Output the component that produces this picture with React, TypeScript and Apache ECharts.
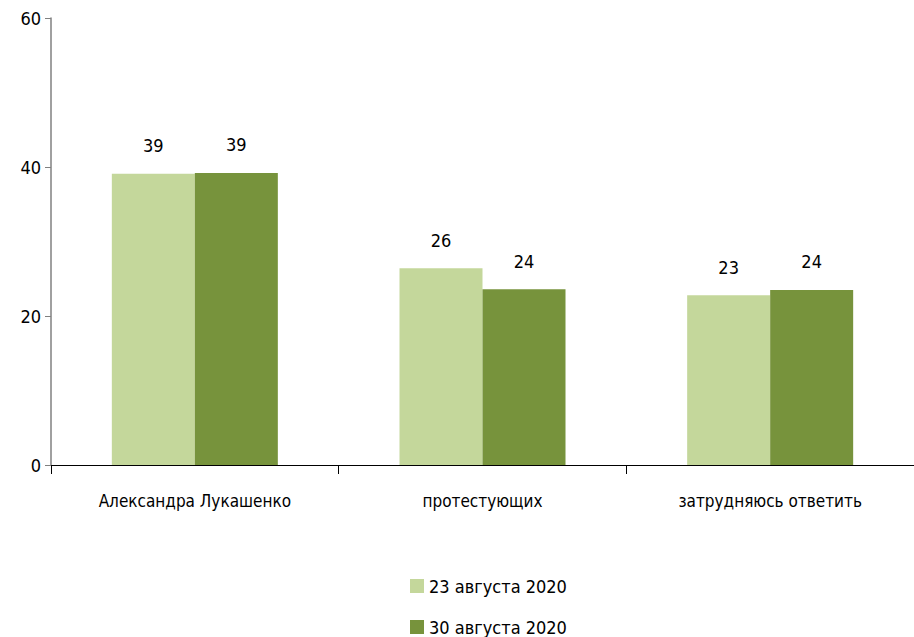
import React, { useEffect, useRef } from "react";
import * as echarts from "echarts";

const categories = ["Александра Лукашенко", "протестующих", "затрудняюсь ответить"];
const seriesNames = ["23 августа 2020", "30 августа 2020"];
const aug23 = [39.1, 26.4, 22.8];
const aug30 = [39.2, 23.6, 23.5];
const colors = ["#c4d79b", "#77933c"];

const FONT = "'Liberation Sans Narrow', 'DejaVu Sans Condensed', 'Roboto Condensed', sans-serif";

export default function App() {
  const ref = useRef<HTMLDivElement>(null);
  useEffect(() => {
    if (!ref.current) return;
    const chart = echarts.init(ref.current, null, { renderer: "svg" });
    const label = {
      show: true,
      position: "top",
      distance: 19,
      color: "#000",
      fontFamily: FONT,
      fontSize: 18,
      formatter: (p: any) => String(Math.round(p.value)),
    };
    chart.setOption({
      animation: false,
      textStyle: { fontFamily: FONT },
      grid: { left: 51, right: 0, top: 18, bottom: 172, containLabel: false },
      legend: {
        orient: "vertical",
        left: 410,
        top: 577,
        height: 60,
        padding: 0,
        itemWidth: 14,
        itemHeight: 14,
        itemGap: 23,
        icon: "rect",
        textStyle: { fontFamily: FONT, fontSize: 18, lineHeight: 18, color: "#000" },
        data: seriesNames,
      },
      xAxis: {
        type: "category",
        data: categories,
        axisLine: { lineStyle: { color: "#000", width: 1 } },
        axisTick: { show: true, length: 9, lineStyle: { color: "#000" } },
        axisLabel: { fontFamily: FONT, fontSize: 17, color: "#000", margin: 27 },
      },
      yAxis: {
        type: "value",
        min: 0,
        max: 60,
        interval: 20,
        splitLine: { show: false },
        axisLine: { show: true, lineStyle: { color: "#808080", width: 1.5 } },
        axisTick: { show: true, length: 6, lineStyle: { color: "#808080" } },
        axisLabel: { fontFamily: FONT, fontSize: 18, color: "#000", margin: 10 },
      },
      series: [
        {
          name: seriesNames[0],
          type: "bar",
          data: aug23,
          itemStyle: { color: colors[0] },
          barWidth: 83,
          barGap: "0%",
          label,
        },
        {
          name: seriesNames[1],
          type: "bar",
          data: aug30,
          itemStyle: { color: colors[1] },
          barWidth: 83,
          barGap: "0%",
          label,
        },
      ],
    });
    return () => chart.dispose();
  }, []);
  return (
    <div
      ref={ref}
      style={{ position: "absolute", left: 0, top: 0, width: 914, height: 637, background: "#fff" }}
    />
  );
}
